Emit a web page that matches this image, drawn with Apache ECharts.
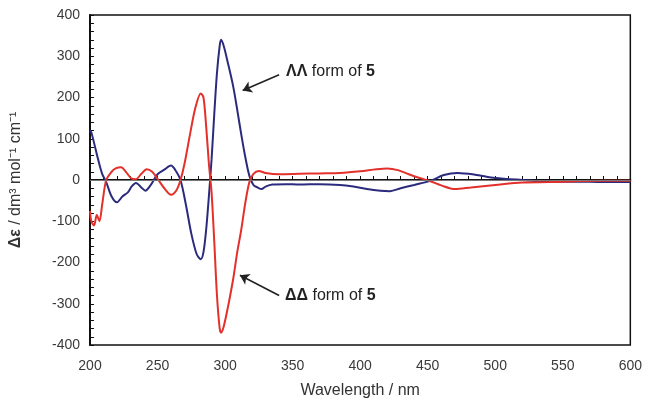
<!DOCTYPE html>
<html>
<head>
<meta charset="utf-8">
<script src="https://cdn.jsdelivr.net/npm/echarts@6/dist/echarts.min.js"></script>
<style>
  html, body { margin: 0; padding: 0; background: #fff; }
  #chart { width: 645px; height: 404px; }
</style>
</head>
<body>
<div id="chart"></div>
<script>
// wavelength (nm) / delta-epsilon pairs
var lamX = [200,201,203,206,209,212,216,220,224,228,231,234,238,241,245,250,255,260,263,267,271,275,279,282,284,286,288,290,292,294,296,297,299,302,306,309,312,315,318,321,324,327,330,335,345,355,370,385,395,405,415,422,430,440,452,462,472,485,500,520,540,560,580,600];
var lamY = [120,115,90,50,15,-5,-40,-54,-40,-30,-15,-7,-18,-26,-12,14,25,35,25,0,-60,-130,-180,-192,-175,-120,-40,50,160,260,325,340,325,285,227,170,110,55,10,-12,-18,-22,-16,-11,-10,-11,-10,-12,-16,-22,-26,-27,-20,-12,-2,12,17,13,5,0,-4,-4,-5,-5];

var delX = [200,201,203,205,207,209,212,216,219,223,227,231,234,238,242,246,250,255,260,264,267,270,274,278,282,284,286,288,290,292,294,296,297,299,302,306,309,312,315,318,321,325,330,340,355,370,385,400,412,420,428,436,444,452,460,470,482,500,520,540,560,580,600];
var delY = [-75,-100,-110,-85,-100,-60,0,20,28,31,18,3,2,15,26,20,3,-20,-36,-25,0,40,110,175,210,200,130,40,-30,-150,-280,-360,-370,-355,-310,-240,-175,-120,-55,-5,15,22,17,14,15,16,17,21,26,28,24,14,5,-3,-13,-22,-18,-12,-6,-5,-3,-2,-2];

var xTicks = [200, 600, 50];
var yTicks = [-400, 400, 100];

function pairs(xs, ys) {
  var out = [];
  for (var i = 0; i < xs.length; i++) out.push([xs[i], ys[i]]);
  return out;
}

var chart = echarts.init(document.getElementById('chart'));
var font = 'Liberation Sans, Arial, sans-serif';

var option = {
  animation: false,
  grid: {
    left: 89, right: 13, top: 15, bottom: 57,
    show: true, borderColor: '#111', borderWidth: 1.5
  },
  xAxis: {
    type: 'value',
    min: xTicks[0], max: xTicks[1], interval: xTicks[2],
    name: 'Wavelength / nm',
    nameLocation: 'middle',
    nameGap: 38,
    nameTextStyle: { fontFamily: font, fontSize: 16, color: '#333' },
    axisLine: { lineStyle: { color: '#111', width: 2 } },
    axisTick: { inside: true, length: 4, lineStyle: { color: '#111' } },
    minorTick: { show: true, splitNumber: 5, length: 4, lineStyle: { color: '#111' } },
    splitLine: { show: false },
    axisLabel: { fontFamily: font, fontSize: 14, color: '#3a3a3a', margin: 14 }
  },
  yAxis: {
    type: 'value',
    min: yTicks[0], max: yTicks[1], interval: yTicks[2],
    name: '{b|Δε} / dm³ mol⁻¹ cm⁻¹',
    nameLocation: 'middle',
    nameRotate: 90,
    nameGap: 66,
    nameTextStyle: {
      fontFamily: font, fontSize: 16, color: '#333',
      rich: { b: { fontFamily: font, fontSize: 16, fontWeight: 'bold', color: '#333' } }
    },
    axisLine: { lineStyle: { color: '#111', width: 2 } },
    axisTick: { inside: true, length: 4, lineStyle: { color: '#111' } },
    minorTick: { show: true, splitNumber: 5, length: 4, lineStyle: { color: '#111' } },
    splitLine: { show: false },
    axisLabel: { fontFamily: font, fontSize: 14, color: '#3a3a3a', margin: 10 }
  },
  series: [
    {
      name: 'ΛΛ',
      type: 'line',
      data: pairs(lamX, lamY),
      smooth: 0.3,
      showSymbol: false,
      lineStyle: { color: '#2b2b7e', width: 2 },
      z: 3,
      markLine: {
        silent: true,
        symbol: 'none',
        label: { show: false },
        lineStyle: { color: '#777', width: 1.2, type: 'solid' },
        data: [{ yAxis: 0 }]
      }
    },
    {
      name: 'ΔΔ',
      type: 'line',
      data: pairs(delX, delY),
      smooth: 0.3,
      showSymbol: false,
      lineStyle: { color: '#e3302b', width: 2 },
      z: 4,
      markLine: {
        silent: true,
        symbol: ['none', 'arrow'],
        symbolSize: 9,
        label: { show: false },
        lineStyle: { color: '#222', width: 1.6, type: 'solid' },
        data: [
          [{ coord: [340, 255] }, { coord: [313, 217] }],
          [{ coord: [340, -280] }, { coord: [311, -231] }]
        ]
      }
    }
  ],
  graphic: [
    {
      type: 'text', left: 286, top: 64,
      style: {
        text: '{b|ΛΛ} form of {b|5}',
        font: '16px ' + font, fill: '#222',
        rich: { b: { fontWeight: 'bold', fontSize: 16, fontFamily: font, fill: '#222' } }
      }
    },
    {
      type: 'text', left: 285, top: 288,
      style: {
        text: '{b|ΔΔ} form of {b|5}',
        font: '16px ' + font, fill: '#222',
        rich: { b: { fontWeight: 'bold', fontSize: 16, fontFamily: font, fill: '#222' } }
      }
    }
  ]
};

chart.setOption(option);
</script>
</body>
</html>
